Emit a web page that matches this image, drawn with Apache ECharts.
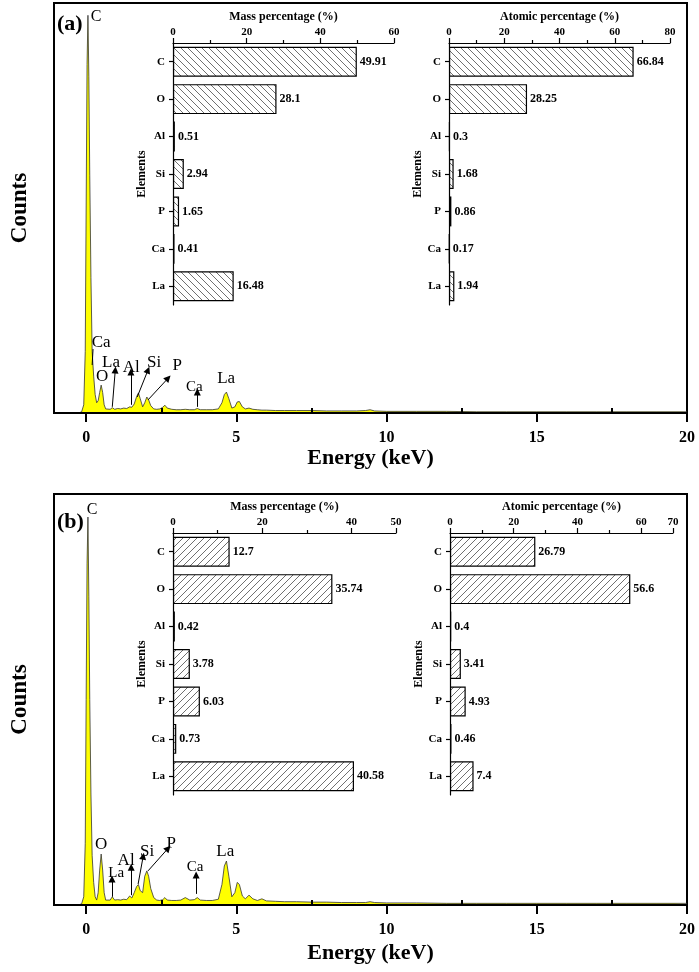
<!DOCTYPE html>
<html><head><meta charset="utf-8">
<script src="https://cdn.jsdelivr.net/npm/echarts@6/dist/echarts.min.js"></script>
<style>html,body{margin:0;padding:0;background:#fff}#c{width:699px;height:972px}</style>
</head><body><div id="c"></div>
<script>
// ---------- data ----------
const energy = [
  -0.25,-0.15,-0.08,-0.03,0,0.03,0.06,0.09,0.12,0.16,
  0.2,0.25,0.3,0.35,0.4,0.45,0.5,0.55,0.6,0.65,
  0.7,0.8,0.87,0.95,1.05,1.15,1.25,1.35,1.45,1.52,
  1.6,1.68,1.74,1.8,1.88,1.95,2.02,2.08,2.15,2.25,
  2.35,2.45,2.55,2.62,2.7,2.85,3.0,3.15,3.3,3.45,
  3.6,3.7,3.8,4.0,4.2,4.4,4.52,4.6,4.67,4.75,
  4.85,4.95,5.03,5.1,5.2,5.3,5.42,5.55,5.7,5.85,
  6.0,6.3,6.6,7.0,7.5,8.0,8.5,9.0,9.3,9.45,
  9.6,10,11,12,13,14,15,16,17,18,
  19,20];
const countsA = [
  0,0.003,0.02,0.15,0.5,0.85,0.97,0.82,0.58,0.33,
  0.15,0.09,0.045,0.025,0.03,0.05,0.068,0.05,0.02,0.01,
  0.008,0.009,0.013,0.009,0.011,0.01,0.012,0.011,0.015,0.014,
  0.022,0.04,0.049,0.035,0.015,0.025,0.039,0.032,0.018,0.01,
  0.009,0.01,0.014,0.019,0.012,0.009,0.008,0.008,0.009,0.008,
  0.008,0.011,0.008,0.008,0.008,0.01,0.025,0.045,0.051,0.035,
  0.012,0.015,0.027,0.028,0.015,0.01,0.012,0.009,0.008,0.007,
  0.007,0.006,0.006,0.006,0.006,0.005,0.005,0.005,0.006,0.008,
  0.005,0.004,0.004,0.004,0.003,0.003,0.003,0.003,0.003,0.003,
  0.003,0.003];
const countsB = [
  0,0.003,0.02,0.15,0.5,0.83,0.944,0.75,0.5,0.27,
  0.12,0.055,0.02,0.012,0.03,0.085,0.124,0.085,0.03,0.012,
  0.01,0.012,0.02,0.012,0.013,0.012,0.014,0.013,0.022,0.017,
  0.03,0.045,0.05,0.035,0.03,0.07,0.083,0.07,0.04,0.018,
  0.012,0.011,0.013,0.018,0.012,0.011,0.011,0.012,0.018,0.012,
  0.013,0.018,0.012,0.011,0.011,0.014,0.05,0.095,0.107,0.07,
  0.02,0.03,0.055,0.05,0.022,0.015,0.024,0.015,0.011,0.015,
  0.01,0.009,0.008,0.008,0.007,0.007,0.006,0.006,0.006,0.008,
  0.006,0.005,0.005,0.004,0.004,0.004,0.004,0.004,0.004,0.004,
  0.004,0.004];

const energyTicks = [0,5,10,15,20];
const energyMinorTicks = [2.5,7.5,12.5,17.5];

const elements = ['C','O','Al','Si','P','Ca','La'];
const massA = [49.91,28.1,0.51,2.94,1.65,0.41,16.48];
const atomicA = [66.84,28.25,0.3,1.68,0.86,0.17,1.94];
const massB = [12.7,35.74,0.42,3.78,6.03,0.73,40.58];
const atomicB = [26.79,56.6,0.4,3.41,4.93,0.46,7.4];

// peak annotations: [text, keV, counts]
const peakLabelsA = [['C',0.33,0.966],['Ca',0.5,0.171],['La',0.83,0.124],['O',0.53,0.088],['Al',1.5,0.112],['Si',2.26,0.124],['P',3.03,0.115],['Ca',3.6,0.063],['La',4.66,0.083]];
const peakLabelsB = [['C',0.2,0.961],['O',0.5,0.148],['La',1.0,0.078],['Al',1.33,0.107],['Si',2.03,0.131],['P',2.83,0.15],['Ca',3.63,0.092],['La',4.63,0.131]];
// arrows: [keV0, counts0, keV1, counts1]
const arrowsA = [[0.87,0.015,0.97,0.105],[1.49,0.02,1.49,0.1],[1.7,0.039,2.06,0.105],[2.06,0.032,2.73,0.085],[3.7,0.015,3.7,0.051]];
const leadersA = [[0.23,0.156,0.2,0.117]];
const arrowsB = [[0.86,0.02,0.86,0.063],[1.5,0.024,1.5,0.092],[1.73,0.051,1.9,0.119],[2.06,0.083,2.73,0.138],[3.66,0.027,3.66,0.073]];
const leadersB = [];

// ---------- styles ----------
const FONT = '"Liberation Serif","Times New Roman",serif';
const labelSizesA = [16,17,17,17,17,17,17,15,17];
const labelSizesB = [16,17,15,17,17,17,15,17];

function hatch(dir){
  const s=7, c=document.createElement('canvas'); c.width=s; c.height=s;
  const g=c.getContext('2d'); g.fillStyle='#fff'; g.fillRect(0,0,s,s);
  g.strokeStyle='#707070'; g.lineWidth=1; g.beginPath();
  if(dir==='\\'){ g.moveTo(-1,-1);g.lineTo(s+1,s+1); g.moveTo(-1,s-1);g.lineTo(1,s+1); g.moveTo(s-1,-1);g.lineTo(s+1,1); }
  else { g.moveTo(-1,s+1);g.lineTo(s+1,-1); g.moveTo(-1,1);g.lineTo(1,-1); g.moveTo(s-1,s+1);g.lineTo(s+1,s-1); }
  g.stroke(); return c;
}
const patA = {image:hatch('\\'), repeat:'repeat'};
const patB = {image:hatch('/'), repeat:'repeat'};

const specGrids = [{left:54,right:12,top:3,height:410},{left:54,right:12,top:494,height:411}];
const specNameGap = [25,37];
const insetGrids = [
  {left:173,top:43,width:221,height:262},
  {left:449,top:43,width:221,height:262},
  {left:173,top:533,width:223,height:262},
  {left:450,top:533,width:223,height:262}
];
const insetMax = [60,80,50,70];
const insetNames = ['Mass percentage (%)','Atomic percentage (%)','Mass percentage (%)','Atomic percentage (%)'];
const insetData = [massA,atomicA,massB,atomicB];
const insetPat = [patA,patA,patB,patB];

const seg = a => [{coord:[a[0],a[1]]},{coord:[a[2],a[3]]}];

const grid = [], xAxis = [], yAxis = [], series = [];
specGrids.forEach((g,i)=>{
  grid.push(Object.assign({show:true,borderColor:'#000',borderWidth:2,backgroundColor:'transparent'},g));
  xAxis.push({gridIndex:i,type:'value',min:-1.07,max:20,z:5,
    axisLine:{show:true,onZero:false,lineStyle:{color:'#000',width:2}},
    axisTick:{show:true,customValues:energyTicks,length:9,lineStyle:{color:'#000',width:2}},
    axisLabel:{customValues:energyTicks,fontFamily:FONT,fontWeight:'bold',fontSize:16,color:'#000',margin:17},
    splitLine:{show:false},
    name:'Energy (keV)',nameLocation:'middle',nameGap:specNameGap[i],
    nameTextStyle:{fontFamily:FONT,fontWeight:'bold',fontSize:22,color:'#000'}});
  xAxis.push({gridIndex:i,type:'value',min:-1.07,max:20,z:5,
    axisLine:{show:false},
    axisTick:{show:true,customValues:energyMinorTicks,length:5,lineStyle:{color:'#000',width:2}},
    axisLabel:{show:false},splitLine:{show:false}});
  yAxis.push({gridIndex:i,type:'value',min:0,max:1,
    axisLine:{show:false},axisTick:{show:false},axisLabel:{show:false},splitLine:{show:false},
    name:'Counts',nameLocation:'middle',nameGap:22,nameRotate:90,
    nameTextStyle:{fontFamily:FONT,fontWeight:'bold',fontSize:23,color:'#000'}});
  const counts = i===0?countsA:countsB;
  const arrs = i===0?arrowsA:arrowsB;
  const leads = i===0?leadersA:leadersB;
  const labs = i===0?peakLabelsA:peakLabelsB, sizes = i===0?labelSizesA:labelSizesB;
  series.push({type:'line',xAxisIndex:i*2,yAxisIndex:i,data:energy.map((e,k)=>[e,counts[k]]),
    color:'#000',
    symbol:'none',lineStyle:{color:'#333',width:0.8},areaStyle:{color:'#ffff00',opacity:1},z:2,
    markLine:{silent:true,symbol:['none','triangle'],symbolSize:7,z:6,
      lineStyle:{color:'#000',width:1,type:'solid'},label:{show:false},
      data:arrs.map(seg)},
    markPoint:{silent:true,symbol:'circle',symbolSize:0,z:7,itemStyle:{color:'#000'},
      label:{show:true,position:'inside',formatter:'{b}',fontFamily:FONT,color:'#000',textBorderWidth:0},
      data:labs.map((l,k)=>({name:l[0],coord:[l[1],l[2]],label:{fontSize:sizes[k]}}))}
  });
  series.push({type:'scatter',xAxisIndex:i*2,yAxisIndex:i,symbolSize:0,z:4,data:[],
    markLine:{silent:true,symbol:['none','none'],z:6,
      lineStyle:{color:'#000',width:1,type:'solid',opacity:1},label:{show:false},
      data:leads.map(seg)}
  });
});
insetGrids.forEach((g,j)=>{
  const gi = grid.length;
  grid.push(Object.assign({show:false},g));
  xAxis.push({gridIndex:gi,type:'value',position:'top',min:0,max:insetMax[j],interval:20,
    axisLine:{show:true,onZero:false,lineStyle:{color:'#000',width:1.2}},
    axisTick:{show:true,length:5,lineStyle:{color:'#000',width:1.2}},
    minorTick:{show:true,splitNumber:2,length:3,lineStyle:{color:'#000',width:1.2}},
    axisLabel:{fontFamily:FONT,fontWeight:'bold',fontSize:11,color:'#000',margin:5},
    splitLine:{show:false},minorSplitLine:{show:false},
    name:insetNames[j],nameLocation:'middle',nameGap:20,
    nameTextStyle:{fontFamily:FONT,fontWeight:'bold',fontSize:12,color:'#000'}});
  yAxis.push({gridIndex:gi,type:'category',data:elements,inverse:true,
    axisLine:{show:true,onZero:false,lineStyle:{color:'#000',width:1.2}},
    axisTick:{show:true,alignWithLabel:true,length:4,lineStyle:{color:'#000',width:1.2}},
    axisLabel:{fontFamily:FONT,fontWeight:'bold',fontSize:11,color:'#000',margin:8},
    splitLine:{show:false},
    name:'Elements',nameLocation:'middle',nameGap:20,nameRotate:90,
    nameTextStyle:{fontFamily:FONT,fontWeight:'bold',fontSize:12,color:'#000'}});
  series.push({type:'bar',xAxisIndex:xAxis.length-1,yAxisIndex:yAxis.length-1,data:insetData[j],
    barWidth:'80%',z:3,
    itemStyle:{color:insetPat[j],borderColor:'#000',borderWidth:1.2},
    label:{show:true,position:'right',distance:3,fontFamily:FONT,fontWeight:'bold',fontSize:12,color:'#000'}});
});

const chart = echarts.init(document.getElementById('c'),null,{renderer:'canvas'});
chart.setOption({
  animation:false,
  backgroundColor:'#fff',
  grid, xAxis, yAxis, series,
  graphic:[
    {type:'text',left:57,top:13,style:{text:'(a)',font:'bold 22px '+FONT,fill:'#000'}},
    {type:'text',left:57,top:511,style:{text:'(b)',font:'bold 22px '+FONT,fill:'#000'}}
  ]
});
</script></body></html>
